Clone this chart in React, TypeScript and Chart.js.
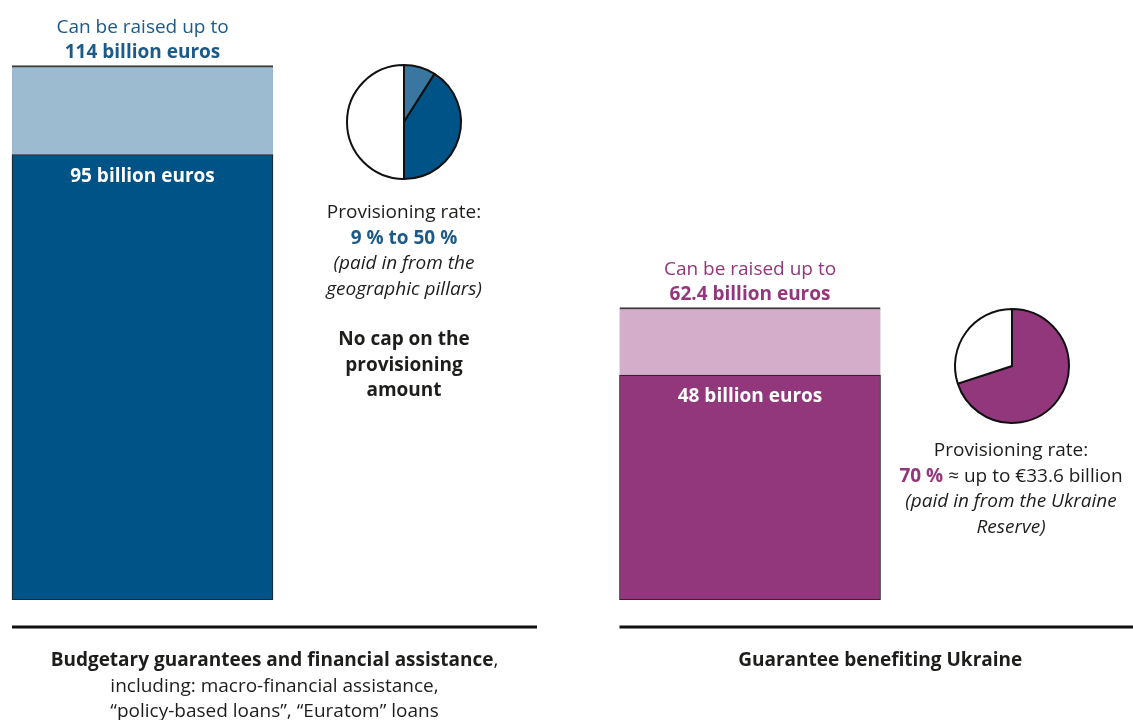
import React, { useEffect, useRef } from "react";
import { Chart, registerables } from "chart.js";

Chart.register(...registerables);

// ---------- data ----------
const categories = ["Budgetary guarantees and financial assistance", "Guarantee benefiting Ukraine"];
const categoryPositions = [0, 1];
const baseValues = [95, 48]; // billion euros
const totalValues = [114, 62.4]; // can be raised up to
const extensionValues = [19, 14.4]; // totalValues - baseValues

const pieLeftLabels = ["Light provisioning share", "Provisioning up to 50 %", "Not provisioned"];
const pieLeftValues = [9, 41, 50];
const pieRightLabels = ["Provisioning 70 %", "Not provisioned"];
const pieRightValues = [70, 30];

// ---------- styles ----------
const W = 1133;
const H = 720;
const FONT = '"Open Sans", "Noto Sans", sans-serif';
const FS = 19;
const LH = 25.5;
const BLUE_DARK = "#005387";
const BLUE_LIGHT = "#9dbbd0";
const BLUE_PIE = "#3a77a0";
const BLUE_TEXT = "#1c5a8a";
const PURPLE = "#93377c";
const PURPLE_LIGHT = "#d4adcb";
const INK = "#1d1d1b";

type Run = { t: string; b?: boolean; i?: boolean; c?: string };

function drawLine(ctx: CanvasRenderingContext2D, runs: Run[], cx: number, y: number, size = FS) {
  const fonts = runs.map((r) => `${r.i ? "italic " : ""}${r.b ? "bold " : ""}${size}px ${FONT}`);
  const widths = runs.map((r, k) => {
    ctx.font = fonts[k];
    return ctx.measureText(r.t).width;
  });
  const total = widths.reduce((a, b) => a + b, 0);
  let x = cx - total / 2;
  ctx.textAlign = "left";
  ctx.textBaseline = "alphabetic";
  runs.forEach((r, k) => {
    ctx.font = fonts[k];
    ctx.fillStyle = r.c || INK;
    ctx.fillText(r.t, x, y);
    x += widths[k];
  });
}

const annotationPlugin = {
  id: "annotations",
  afterDraw(chart: any) {
    const ctx: CanvasRenderingContext2D = chart.ctx;
    const xs = chart.scales.x;
    const ys = chart.scales.y;
    const barHalf = 130.5;
    ctx.save();
    const colors = [BLUE_TEXT, PURPLE];
    categoryPositions.forEach((pos, i) => {
      const cx = xs.getPixelForValue(pos);
      const topY = ys.getPixelForValue(totalValues[i]);
      const baseY = ys.getPixelForValue(baseValues[i]);
      drawLine(ctx, [{ t: "Can be raised up to", c: colors[i] }], cx, topY - 33);
      drawLine(ctx, [{ t: `${totalValues[i]} billion euros`, b: true, c: colors[i] }], cx, topY - 8);
      drawLine(ctx, [{ t: `${baseValues[i]} billion euros`, b: true, c: "#ffffff" }], cx, baseY + 27);
    });

    // rules and category labels
    const zeroY = ys.getPixelForValue(0);
    const ruleY = zeroY + 27;
    const l0 = xs.getPixelForValue(categoryPositions[0]) - barHalf;
    const l1 = xs.getPixelForValue(categoryPositions[1]) - barHalf;
    const rules = [
      [l0, l0 + 525],
      [l1, chart.chartArea.right],
    ];
    ctx.fillStyle = "#111";
    rules.forEach(([a, b]) => ctx.fillRect(a, ruleY - 1.5, b - a, 3));

    const c0 = (rules[0][0] + rules[0][1]) / 2;
    const c1 = (rules[1][0] + rules[1][1]) / 2 + 4;
    drawLine(ctx, [{ t: categories[0], b: true }, { t: "," }], c0, ruleY + 39);
    drawLine(ctx, [{ t: "including: macro-financial assistance," }], c0, ruleY + 39 + LH);
    drawLine(ctx, [{ t: "\u201Cpolicy-based loans\u201D, \u201CEuratom\u201D loans" }], c0, ruleY + 39 + 2 * LH);
    drawLine(ctx, [{ t: categories[1], b: true }], c1, ruleY + 39);

    // pie captions
    const p0x = 404;
    let y = 218;
    drawLine(ctx, [{ t: "Provisioning rate:" }], p0x, y);
    drawLine(ctx, [{ t: `${pieLeftValues[0]} % to ${pieLeftValues[0] + pieLeftValues[1]} %`, b: true, c: BLUE_TEXT }], p0x, y + LH);
    drawLine(ctx, [{ t: "(paid in from the", i: true }], p0x, y + 2 * LH);
    drawLine(ctx, [{ t: "geographic pillars)", i: true }], p0x, y + 3 * LH);
    y = 345;
    drawLine(ctx, [{ t: "No cap on the", b: true }], p0x, y);
    drawLine(ctx, [{ t: "provisioning", b: true }], p0x, y + LH);
    drawLine(ctx, [{ t: "amount", b: true }], p0x, y + 2 * LH);

    const p1x = 1011;
    y = 456;
    drawLine(ctx, [{ t: "Provisioning rate:" }], p1x, y);
    drawLine(
      ctx,
      [
        { t: `${pieRightValues[0]} %`, b: true, c: PURPLE },
        { t: ` \u2248 up to \u20AC${(baseValues[1] * pieRightValues[0] / 100).toFixed(1)} billion` },
      ],
      p1x,
      y + LH
    );
    drawLine(ctx, [{ t: "(paid in from the Ukraine", i: true }], p1x, y + 2 * LH);
    drawLine(ctx, [{ t: "Reserve)", i: true }], p1x, y + 3 * LH);
    ctx.restore();
  },
};

const PIE_SIZE = 130;

export default function App() {
  const barRef = useRef<HTMLCanvasElement>(null);
  const pie1Ref = useRef<HTMLCanvasElement>(null);
  const pie2Ref = useRef<HTMLCanvasElement>(null);

  useEffect(() => {
    document.body.style.margin = "0";
    const unit = 607.5;
    const bar = new Chart(barRef.current!, {
      type: "bar",
      data: {
        datasets: [
          {
            label: "Amount",
            data: categoryPositions.map((x, i) => ({ x, y: baseValues[i] })),
            backgroundColor: [BLUE_DARK, PURPLE],
            borderColor: "#1d1d1b",
            borderWidth: 1,
            borderSkipped: false,
            barThickness: 261,
          },
          {
            label: "Can be raised up to",
            data: categoryPositions.map((x, i) => ({ x, y: extensionValues[i] })),
            backgroundColor: [BLUE_LIGHT, PURPLE_LIGHT],
            borderColor: "#3c3c3b",
            borderWidth: { top: 2, left: 0, right: 0, bottom: 0 },
            borderSkipped: false,
            barThickness: 261,
          },
        ],
      } as any,
      options: {
        responsive: false,
        animation: false,
        layout: { padding: { left: 0, right: 0, top: 0, bottom: 120 } },
        plugins: { legend: { display: false }, tooltip: { enabled: false } },
        scales: {
          x: {
            type: "linear",
            stacked: true,
            offset: false,
            grid: { offset: false },
            min: -142.5 / unit,
            max: (W - 142.5) / unit,
            display: false,
          },
          y: { stacked: true, min: 0, max: 128, display: false },
        },
      } as any,
      plugins: [annotationPlugin],
    });

    const pieOpts = {
      responsive: false,
      animation: false,
      layout: { padding: 0 },
      plugins: { legend: { display: false }, tooltip: { enabled: false } },
    } as any;
    const pie1 = new Chart(pie1Ref.current!, {
      type: "pie",
      data: {
        labels: pieLeftLabels,
        datasets: [
          {
            data: pieLeftValues,
            backgroundColor: [BLUE_PIE, BLUE_DARK, "#ffffff"],
            borderColor: "#111",
            borderWidth: 2,
            radius: 57,
          } as any,
        ],
      },
      options: pieOpts,
    });
    const pie2 = new Chart(pie2Ref.current!, {
      type: "pie",
      data: {
        labels: pieRightLabels,
        datasets: [
          {
            data: pieRightValues,
            backgroundColor: [PURPLE, "#ffffff"],
            borderColor: "#111",
            borderWidth: 2,
            radius: 57,
          } as any,
        ],
      },
      options: pieOpts,
    });
    return () => {
      bar.destroy();
      pie1.destroy();
      pie2.destroy();
    };
  }, []);

  const abs = (left: number, top: number): React.CSSProperties => ({
    position: "absolute",
    left,
    top,
    width: PIE_SIZE,
    height: PIE_SIZE,
  });

  return (
    <div style={{ position: "relative", width: W, height: H, overflow: "hidden", background: "#fff" }}>
      <canvas ref={barRef} width={W} height={H} style={{ position: "absolute", left: 0, top: 0 }} />
      <canvas ref={pie1Ref} width={PIE_SIZE} height={PIE_SIZE} style={abs(404 - PIE_SIZE / 2, 122 - PIE_SIZE / 2)} />
      <canvas ref={pie2Ref} width={PIE_SIZE} height={PIE_SIZE} style={abs(1012 - PIE_SIZE / 2, 366 - PIE_SIZE / 2)} />
    </div>
  );
}
